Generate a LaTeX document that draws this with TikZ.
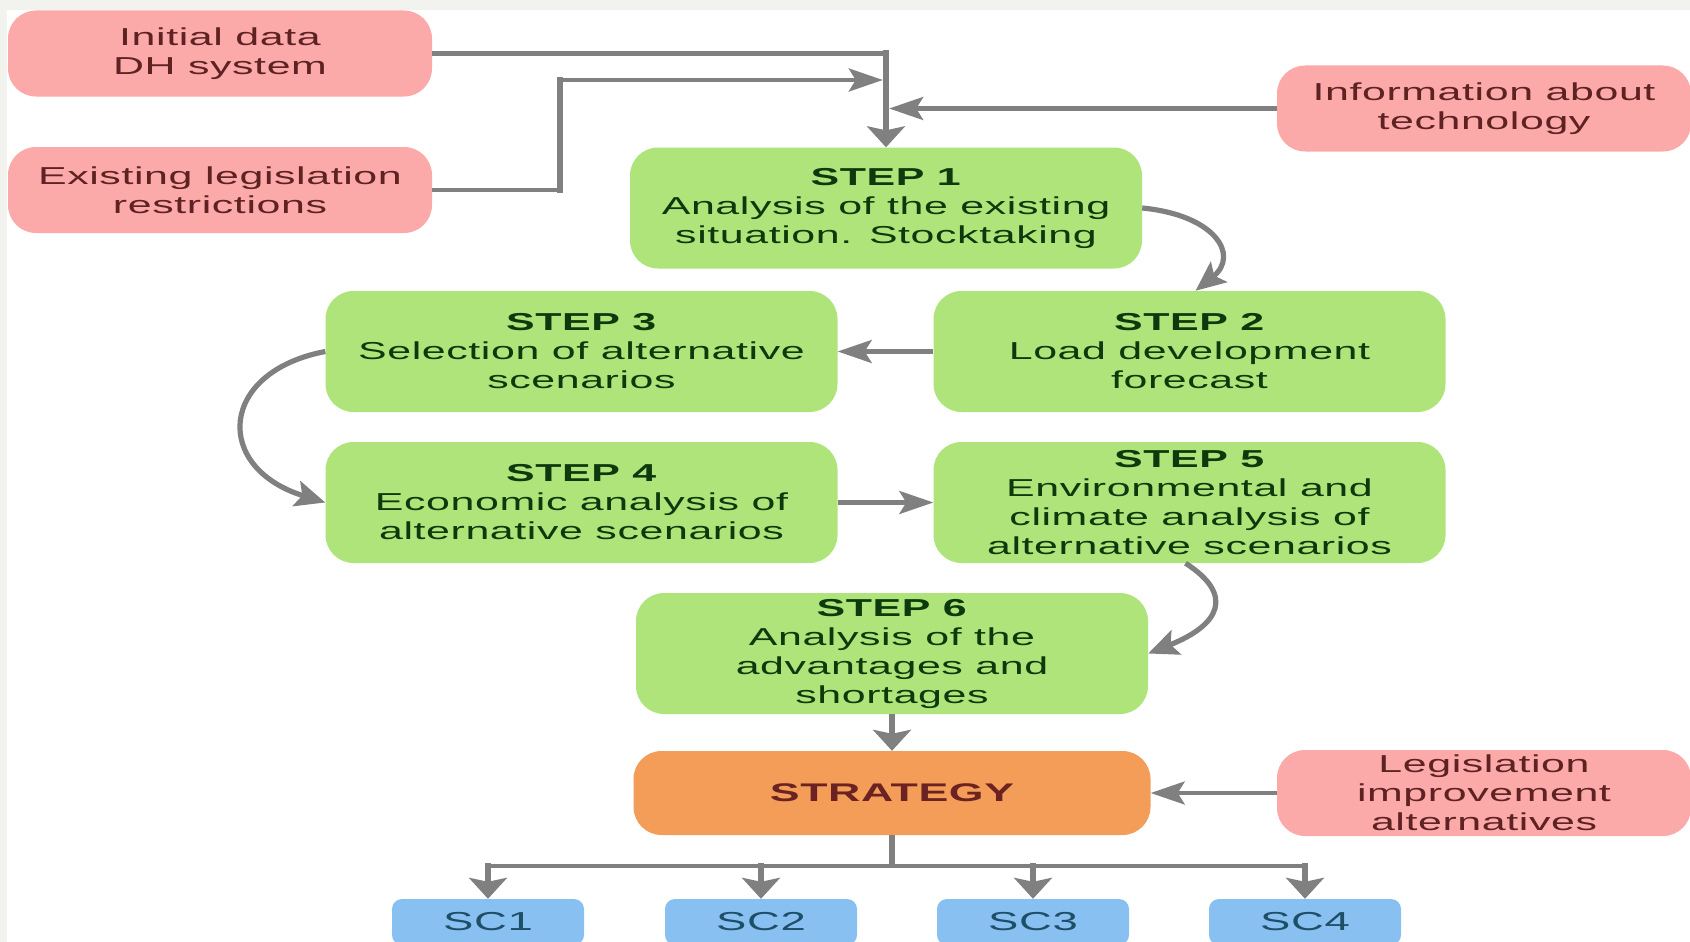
\documentclass[tikz,border=0pt]{standalone}
\usepackage{fontspec}
\setmainfont{Liberation Sans}[FakeStretch=1.75,LetterSpace=2.5]
\usetikzlibrary{arrows.meta}
\definecolor{bgC}{HTML}{F2F2EE}
\definecolor{pinkF}{HTML}{FCA9A9}
\definecolor{pinkT}{HTML}{5E2222}
\definecolor{greenF}{HTML}{AFE47A}
\definecolor{greenT}{HTML}{0C3A0C}
\definecolor{orangeF}{HTML}{F39D58}
\definecolor{orangeT}{HTML}{6A2222}
\definecolor{blueF}{HTML}{88C0F2}
\definecolor{blueT}{HTML}{1E4F66}
\definecolor{arrowC}{HTML}{808080}
\begin{document}
\begin{tikzpicture}[x=1pt,y=-1pt,
  box/.style={rounded corners=28pt, inner sep=0pt, align=center,
    font=\fontsize{24.5}{29}\selectfont},
  srcbox/.style={box, fill=pinkF, text=pinkT, minimum width=424pt, minimum height=86pt},
  stepbox/.style={box, fill=greenF, text=greenT, minimum width=512pt, minimum height=121pt},
  stratbox/.style={box, fill=orangeF, text=orangeT, minimum width=517pt, minimum height=84pt,
    font=\fontsize{25.5}{29}\selectfont\bfseries},
  scbox/.style={box, rounded corners=10pt, fill=blueF, text=blueT, minimum width=192pt,
    minimum height=46pt, font=\fontsize{26}{29}\selectfont},
  hline/.style={draw=arrowC, line width=4.2pt},
  vline/.style={draw=arrowC, line width=6.5pt},
  vcap/.style={vline, line cap=rect},
  cline/.style={draw=arrowC, line width=5.2pt},
  hhead/.style={-{Stealth[length=34pt,width=23pt,inset=7pt]}},
  vhead/.style={-{Stealth[length=21pt,width=38pt,inset=4pt]}},
  chead/.style={-{Stealth[length=30pt,width=26pt,inset=6pt]}},
]
\useasboundingbox (0,0) rectangle (1690,942);
\fill[bgC] (0,0) rectangle (1690,942);
\fill[white] (7,10) rectangle (1690,942);

% nodes
\node[srcbox] (init) at (220,53.5) {Initial data\\DH system};
\node[srcbox] (exist) at (220,190) {Existing legislation\\restrictions};
\node[srcbox, minimum width=414pt] (info) at (1484,108.5) {Information about\\technology};
\node[stepbox] (s1) at (886,208) {\textbf{STEP 1}\\Analysis of the existing\\situation. Stocktaking};
\node[stepbox] (s3) at (581.5,351.5) {\textbf{STEP 3}\\Selection of alternative\\scenarios};
\node[stepbox] (s2) at (1189.5,351.5) {\textbf{STEP 2}\\Load development\\forecast};
\node[stepbox] (s4) at (581.5,502.5) {\textbf{STEP 4}\\Economic analysis of\\alternative scenarios};
\node[stepbox] (s5) at (1189.5,502.5) {\textbf{STEP 5}\\Environmental and\\climate analysis of\\alternative scenarios};
\node[stepbox] (s6) at (892,653.5) {\textbf{STEP 6}\\Analysis of the\\advantages and\\shortages};
\node[stratbox] (strat) at (892,793) {STRATEGY};
\node[srcbox, minimum width=414pt] (legis) at (1484,793) {Legislation\\improvement\\alternatives};
\node[scbox] (sc1) at (488,922) {SC1};
\node[scbox] (sc2) at (761,922) {SC2};
\node[scbox] (sc3) at (1033,922) {SC3};
\node[scbox] (sc4) at (1305,922) {SC4};

% inputs to STEP 1
\coordinate (j1) at (init.east -| s1.north);
\draw[hline] (init.east) -- (j1);
\draw[vcap] (j1) -- ++(0,10);
\draw[vline, vhead] (j1) -- (s1.north);
\coordinate (e1) at (exist.east -| 560,0);
\coordinate (e2) at (560,80);
\coordinate (bus1) at (e2 -| s1.north);
\draw[hline] (exist.east) -- (e1);
\draw[vcap] (e1) -- (e2);
\draw[hline, hhead] (e2) -- ([xshift=-3.2pt]bus1);
\coordinate (bus2) at (info.west -| s1.north);
\draw[hline, hhead] (info.west) -- ([xshift=3.2pt]bus2);

% step flow
\draw[cline, chead] (s1.east) .. controls (1215,215) and (1240,255) .. ([xshift=6pt]s2.north);
\draw[hline, hhead] (s2.west) -- (s3.east);
\draw[cline, chead] (s3.west) .. controls (218,372) and (213,468) .. (s4.west);
\draw[hline, hhead] (s4.east) -- (s5.west);
\draw[cline, chead] ([xshift=-4pt]s5.south) .. controls (1235,595) and (1220,625) .. (s6.east);
\draw[vline, vhead] (s6.south) -- (strat.north);
\draw[hline, hhead] (legis.west) -- (strat.east);

% strategy to scenarios
\coordinate (b0) at (strat.south |- 0,866);
\coordinate (b1) at (sc1.north |- 0,866);
\coordinate (b2) at (sc2.north |- 0,866);
\coordinate (b3) at (sc3.north |- 0,866);
\coordinate (b4) at (sc4.north |- 0,866);
\draw[vline] (strat.south) -- (b0);
\draw[hline] (b1) -- (b4);
\foreach \i in {1,2,3,4} {
  \draw[vcap] (b\i) -- ++(0,8);
  \draw[vline, vhead] (b\i) -- (sc\i.north);
}
\end{tikzpicture}
\end{document}
